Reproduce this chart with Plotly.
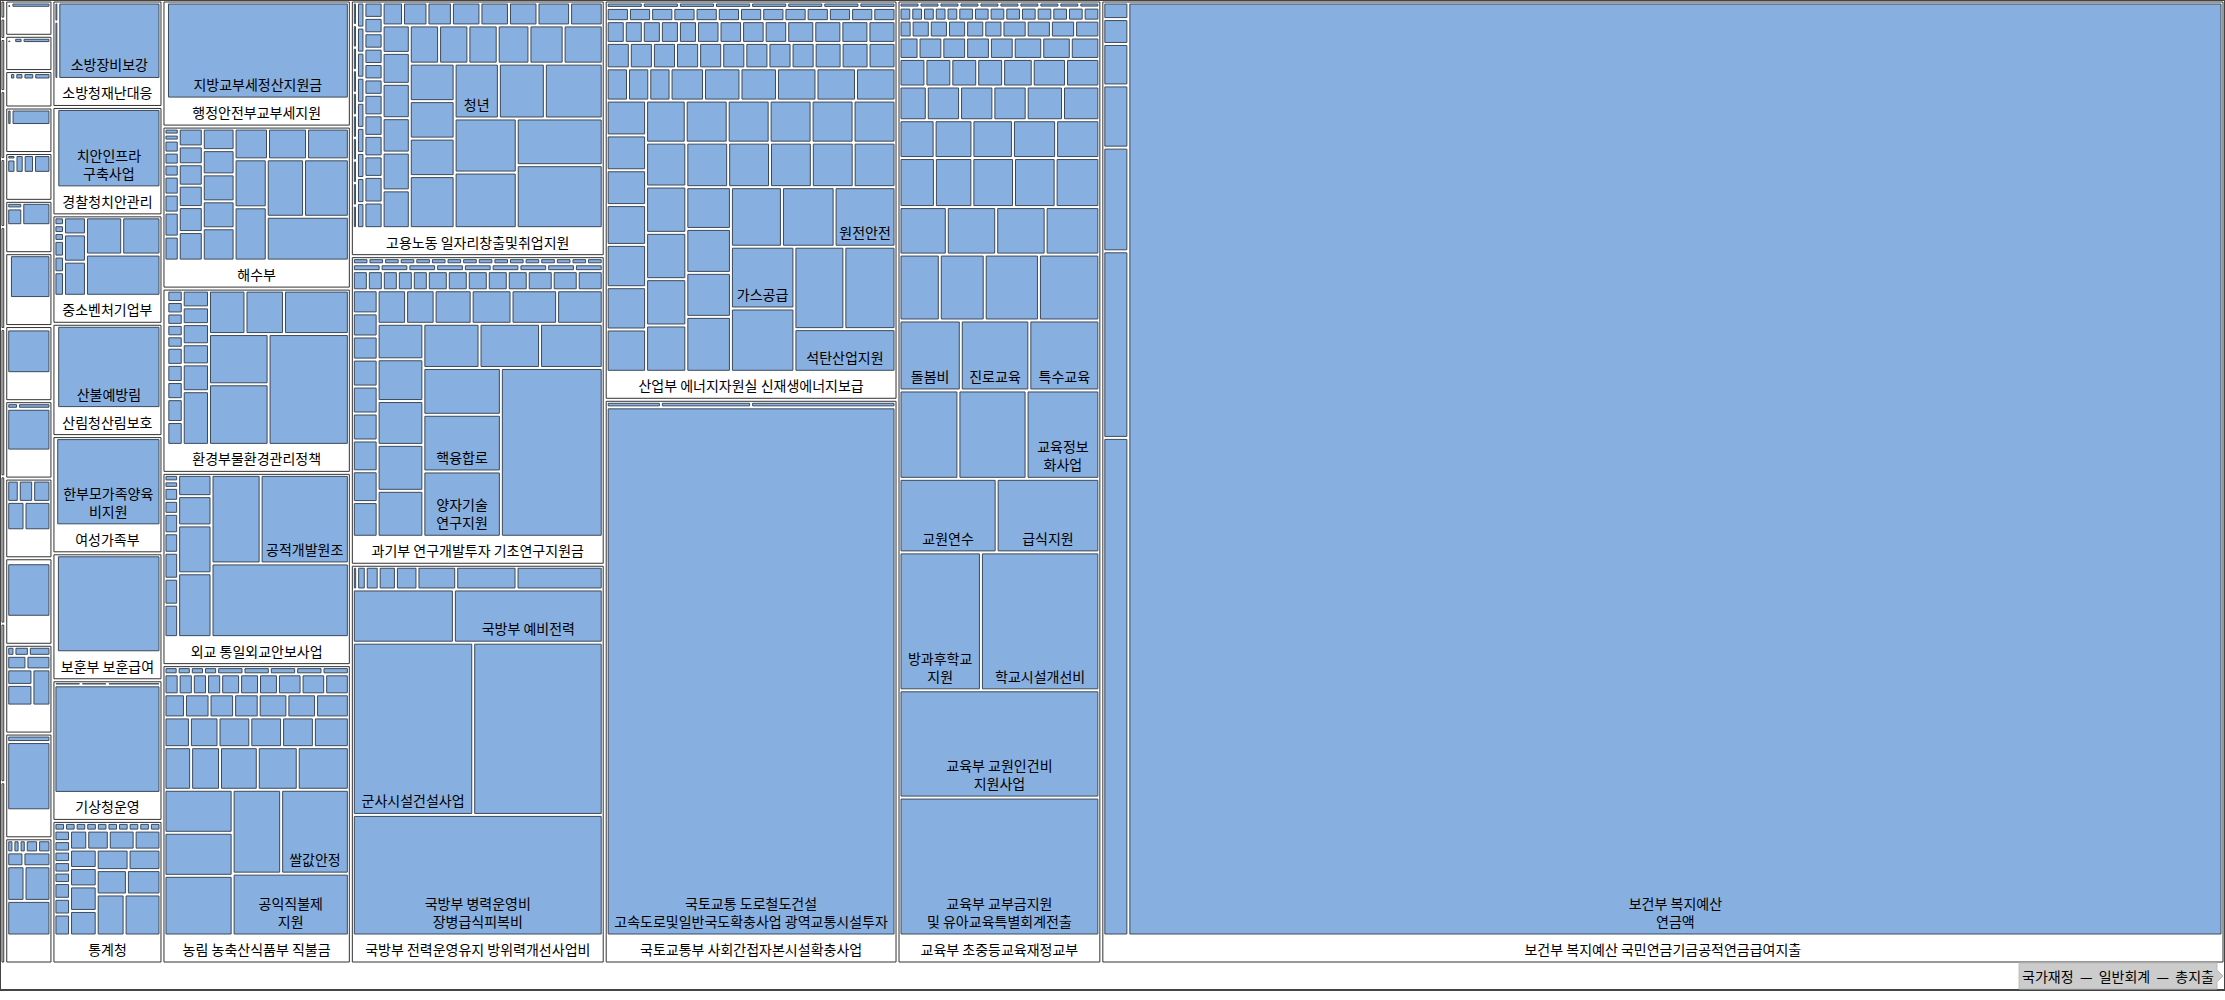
import plotly.graph_objects as go

# 루트 경로 (루트에 마우스를 올렸을 때 보이는 문구)
PATH_LABELS = ["국가재정", "일반회계", "총지출"]
ROOT_ID = PATH_LABELS[-1]

# 상위 항목 이름 (헤더) / 세부 항목 이름 / 값
G_LABEL = "보건부 복지예산 국민연금기금공적연금급여지출"
G_NAMES = ["보건부 복지예산<br>연금액"]
G_VALUES = [9840, 120, 45, 25, 15, 10, 6, 4]

F_LABEL = "교육부 초중등교육재정교부"
F_NAMES = ["교육부 교부금지원<br>및 유아교육특별회계전출", "교육부 교원인건비<br>지원사업", "학교시설개선비",
           "방과후학교<br>지원", "급식지원", "교육정보<br>화사업", "교원연수",
           "교육격차해소를위한기초학력보장지원사업", "학생안전", "진로교육", "특수교육", "돌봄비"]
F_VALUES = [270, 210, 160, 110, 74, 63, 70, 59, 51, 47, 48, 42, 26, 29, 35, 39, 25, 21, 23, 23,
            12, 11, 12, 13, 14, 15, 16, 16, 17, 18, 20, 20, 22, 11, 7, 7, 9, 9, 9, 11,
            8, 7, 7, 6, 6, 6, 5, 5, 5, 5, 4, 4, 4, 4, 4, 3, 3, 3, 3, 3,
            2, 2, 2, 2, 2, 2, 2, 2, 2, 2, 1.5, 1.5, 1.5, 1.5, 1.5, 1, 1, 1, 1, 1, 1, 1, 1, 1, 1]

E3_LABEL = "국토교통부 사회간접자본시설확충사업"
E3_NAMES = ["국토교통 도로철도건설<br>고속도로및일반국도확충사업 광역교통시설투자"]
E3_VALUES = [1520, 8, 5, 3]

E2_LABEL = "산업부 에너지자원실 신재생에너지보급"
E2_NAMES = ["송배전망확충", "해외자원개발", "전력산업기반", "석탄산업지원", "전력수급", "원전안전", "가스공급"]
E2_VALUES = [41, 43, 42, 44, 32, 37, 40, 31, 19, 19, 20, 25, 19, 19, 19, 19, 19, 18, 18, 20,
             19, 19, 16, 17, 17, 17, 17, 18, 18, 19, 18, 18, 12, 14, 13, 14, 11, 13, 14, 13,
             12, 6, 6, 7, 6, 5, 6, 7, 6, 6, 5, 6, 7, 6, 5, 6, 7, 6, 6, 7,
             6, 5, 6, 7, 4, 3, 3, 4, 3, 2, 3, 4, 3, 3, 2, 3, 4, 3, 3, 2, 2, 3, 4, 3, 2, 2, 3, 2, 3, 2]

E1_LABEL = "국방부 전력운영유지 방위력개선사업비"
E1_NAMES = ["국방부 병력운영비<br>장병급식피복비", "전력지원체계개선사업 군수지원", "군사시설건설사업", "국방부 예비전력"]
E1_VALUES = [308, 228, 212, 81, 55, 20, 14, 9, 5, 4, 3, 2, 1]

D1A_LABEL = "외교 통일외교안보사업"
D1A_NAMES = ["재외국민 보호영사업무", "공적개발원조"]
D1A_VALUES = [114, 88, 49, 24, 11, 18, 8, 3, 3, 4, 4, 5, 2, 2, 1, 1]

D1B_LABEL = "환경부물환경관리정책"
D1B_NAMES = ["상수도시설확충"]
D1B_VALUES = [101, 41, 34, 19, 32, 18, 6, 6, 8, 16, 5, 5, 4, 4, 3, 3, 3, 2, 2, 2, 2, 2, 1, 1, 1, 1, 1]

D2_LABEL = "농림 농축산식품부 직불금"
D2_NAMES = ["공익직불제<br>지원", "쌀값안정", "농촌공간정비사업", "농촌개발사업지원"]
D2_VALUES = [76, 60, 43, 31, 43, 17, 13, 18, 23, 10, 31, 12, 11, 10, 10, 9, 8, 8, 7, 7,
             6, 6, 6, 5, 5, 5, 5, 4, 4, 4, 3, 3, 3, 3, 2, 2, 2, 2, 2, 1, 1, 1, 1]

D3_LABEL = "고용노동 일자리창출및취업지원"
D3_NAMES = ["직업능력개발", "고용보험기금전출", "산업안전보건사업", "장애인고용촉진", "구직급여지원", "모성보호급여", "청년"]
D3_VALUES = [58, 43, 27, 34, 37, 36, 26, 18, 18, 25, 16, 18, 14, 13, 12, 12, 11, 10, 8, 7,
             5, 12, 11, 10, 9, 8, 8, 7, 7, 6, 6, 5, 5, 4, 4, 4, 4, 3, 3, 3,
             3, 3, 3, 2, 2, 2, 2, 2, 2, 2, 2, 2, 1, 1, 1, 1, 1, 1, 1, 1, 1, 1]

D4_LABEL = "과기부 연구개발투자 기초연구지원금"
D4_NAMES = ["우주항공기술개발<br>사업", "양자기술<br>연구지원", "핵융합로", "인공지능핵<br>심기술개발"]
D4_VALUES = [180, 53, 46, 38, 28, 29, 21, 20, 22, 22, 26, 16, 17, 16, 7, 7, 8, 9, 10, 10,
             13, 14, 8, 6, 6, 3, 7, 6, 5, 5, 5, 4, 4, 4, 4, 4, 3, 3, 3, 3,
             2, 2, 2, 2, 2, 2, 2, 2, 2, 1, 1, 1, 1, 1, 1, 1, 1, 1, 1, 1, 1, 1, 1, 1, 1]

C_LABEL = "해수부"
C_VALUES = [42, 30, 25, 20, 18, 15, 14, 12, 12, 10, 10, 9, 8, 8, 7, 6, 6, 5, 5, 4, 4, 3, 3, 2, 2, 2, 1, 1]

B_LABELS = ["문화체육관광부", "법무부교정", "경찰청치안관리", "소방청재난대응", "산림청산림보호", "기상청운영",
            "중소벤처기업부", "여성가족부", "통계청", "보훈부 보훈급여", "행정안전부교부세지원"]
B_NAMES = [[], ["교정시설운영비"], ["치안인프라<br>구축사업"], ["소방장비보강"], ["산불예방림"], [],
           [], ["한부모가족양육<br>비지원"], [], ["보훈급여금지급사업"], ["지방교부세정산지원금"]]
B_VALUES = [[20, 12, 8, 5, 3, 2, 2, 1, 1, 1],
            [42, 4],
            [108, 2, 1],
            [105, 3, 1],
            [112, 2, 1],
            [140, 2, 1, 1],
            [41, 18, 19, 10, 5, 8, 3, 2, 2, 1, 1, 1],
            [118, 2],
            [18, 14, 9, 8, 8, 8, 6, 10, 8, 6, 6, 4, 4, 6, 5, 3, 3, 2, 2, 2, 2, 2, 1, 1, 1, 1, 1, 1, 1, 1, 1, 1],
            [127, 3],
            [218, 3]]

A_LABELS = ["국세청운영", "관세청운영", "조달청운영", "특허청운영", "병무청운영", "방사청운영", "문화재청운영",
            "농진청운영", "새만금청운영", "행복청운영", "인사처운영", "법제처운영", "식약처운영", "권익위운영",
            "공정위운영", "금융위운영", "원안위운영", "방통위운영", "감사원운영", "인권위운영", "선관위운영",
            "헌법재판소"]
A_VALUES = [[1.5, 1, 0.5], [0.5, 0.3], [0.6, 0.3], [1.5, 0.8], [3, 2, 1, 0.5], [2, 1], [3, 1.5],
            [4, 2.5], [7, 1], [5, 2], [14, 1, 0.5], [10, 3, 1, 1, 0.5], [6, 4, 3, 2, 1],
            [8, 5, 4, 3, 1], [15, 6, 2], [18, 2], [32, 1], [30, 2], [10, 8, 6, 5, 4, 3, 2, 1],
            [36, 2], [30, 3, 1], [12, 8, 6, 5, 4]]

LEAF_COLOR = "#87afdf"

groups = [(G_LABEL, G_NAMES, G_VALUES), (F_LABEL, F_NAMES, F_VALUES),
          (E3_LABEL, E3_NAMES, E3_VALUES), (E2_LABEL, E2_NAMES, E2_VALUES),
          (E1_LABEL, E1_NAMES, E1_VALUES), (D1A_LABEL, D1A_NAMES, D1A_VALUES),
          (D1B_LABEL, D1B_NAMES, D1B_VALUES), (D2_LABEL, D2_NAMES, D2_VALUES),
          (D3_LABEL, D3_NAMES, D3_VALUES), (D4_LABEL, D4_NAMES, D4_VALUES),
          (C_LABEL, [], C_VALUES)]
groups += list(zip(B_LABELS, B_NAMES, B_VALUES))
groups += [(lab, [], vv) for lab, vv in zip(A_LABELS, A_VALUES)]

# 작은 것부터 배치 (원본과 같은 순서)
groups.sort(key=lambda g: sum(g[2]))

LEAF_HOVER = "%{label}<br>%{value}<extra></extra>"

# 루트: 글자 없이, 마우스를 올리면 경로를 보여 줌
ids = [ROOT_ID]
labels = [""]
parents = [""]
values = [0]
colors = ["white"]
lines = ["white"]
widths = [0]
hovers = ["  —  ".join(PATH_LABELS) + "<extra></extra>"]

for label, names, vals in groups:
    gid = label
    ids.append(gid)
    labels.append(label)
    parents.append(ROOT_ID)
    values.append(0)
    colors.append("white")
    lines.append("#333333")
    widths.append(1)
    hovers.append(LEAF_HOVER)
    items = []
    for i, v in enumerate(vals):
        name = names[i] if i < len(names) else f"{label[:3]}세부사업{i:02d}"
        items.append((name, v, i))
    items.sort(key=lambda t: t[1])
    for name, v, i in items:
        ids.append(f"{gid}/{i}")
        labels.append(name)
        parents.append(gid)
        values.append(v)
        colors.append(LEAF_COLOR)
        lines.append("#3b4a5c")
        widths.append(1)
        hovers.append(LEAF_HOVER)

fig = go.Figure(go.Treemap(
    ids=ids,
    labels=labels,
    parents=parents,
    values=values,
    branchvalues="remainder",
    sort=False,
    marker=dict(colors=colors, line=dict(color=lines, width=widths),
                pad=dict(t=2, l=2, r=2, b=28)),
    textposition="bottom center",
    textinfo="label",
    textfont=dict(family="Noto Sans CJK KR", size=14, color="black"),
    hovertemplate=hovers,
    hoverlabel=dict(bgcolor="#cccccc", bordercolor="#bbbbbb",
                    font=dict(family="Noto Sans CJK KR", size=14, color="black")),
    pathbar=dict(visible=False),
))
fig.update_layout(
    width=2225, height=1000,
    margin=dict(l=0, r=0, t=0, b=10),
    uniformtext=dict(minsize=14, mode="hide"),
    paper_bgcolor="white",
)
fig.write_html("out.html", config={"displayModeBar": False},
               post_script="document.body.style.margin='0';")
